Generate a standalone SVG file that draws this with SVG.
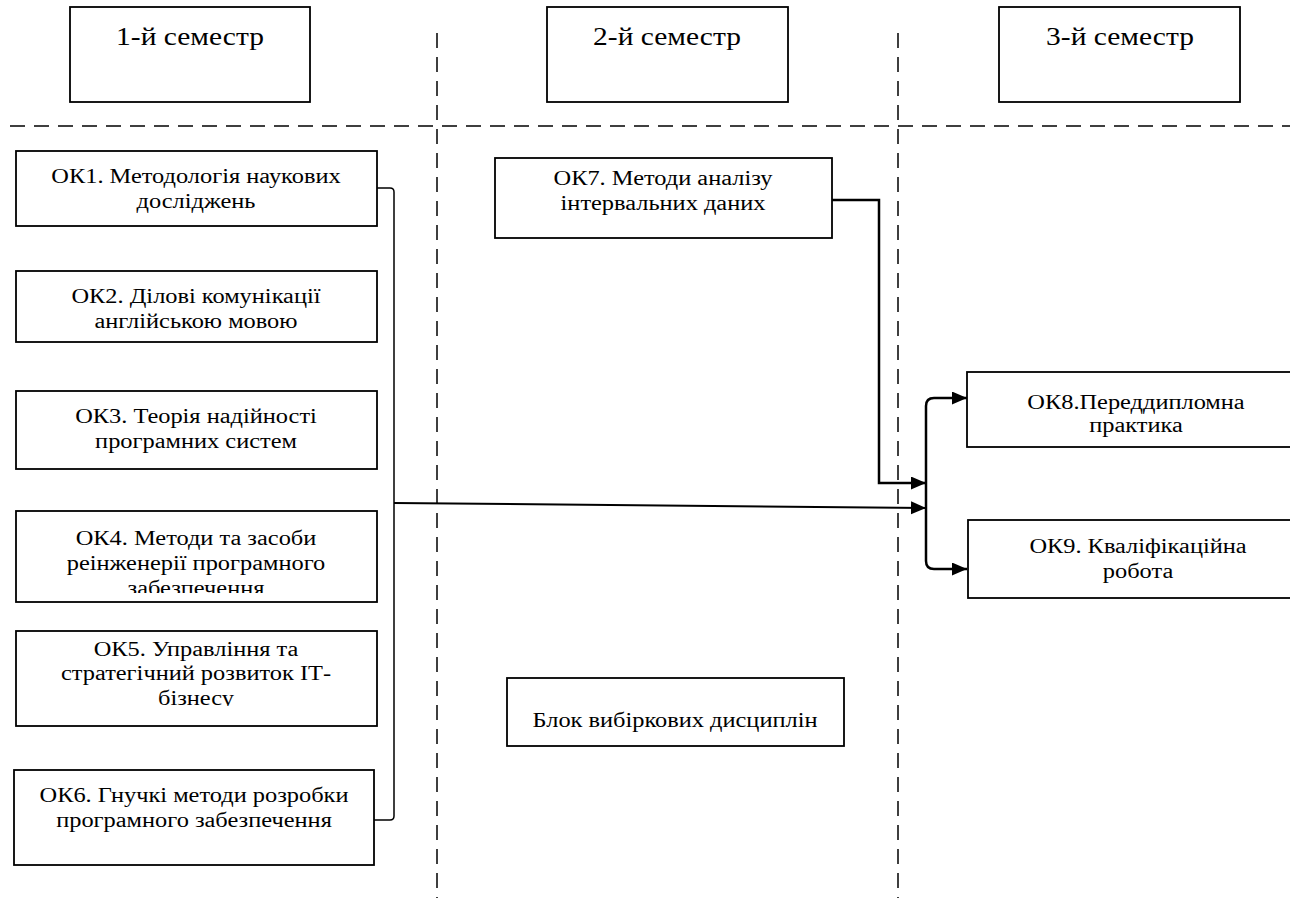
<svg xmlns="http://www.w3.org/2000/svg" width="1290" height="898" viewBox="0 0 1290 898">
<style>
.box{fill:#fff;stroke:#000;stroke-width:1.8}
.dash{fill:none;stroke:#000;stroke-width:1.5;stroke-dasharray:15 9}
.t{font-family:'Liberation Serif','DejaVu Serif',serif;font-size:20.5px;fill:#000;text-anchor:middle}
.h{font-family:'Liberation Serif','DejaVu Serif',serif;font-size:25px;fill:#000;text-anchor:middle}
.thin{fill:none;stroke:#000;stroke-width:1.5}
.thick{fill:none;stroke:#000;stroke-width:2.5}
</style>
<defs>
<marker id="arr" markerUnits="userSpaceOnUse" markerWidth="16" markerHeight="14" refX="15" refY="6.5" orient="auto">
<path d="M0,0 L15,6.5 L0,13 z" fill="#000"/>
</marker>
<clipPath id="c4"><rect x="16" y="511" width="361" height="82"/></clipPath>
<clipPath id="c5"><rect x="16" y="631" width="361" height="75"/></clipPath>
</defs>
<rect width="1290" height="898" fill="#fff"/>
<g id="grid">
<line class="dash" x1="10" y1="126" x2="1290" y2="126"/>
<line class="dash" x1="437" y1="33" x2="437" y2="898"/>
<line class="dash" x1="898" y1="33" x2="898" y2="898"/>
</g>
<g id="sem1"><rect class="box" x="70" y="7" width="240" height="95"/>
<text class="h" transform="translate(190,45) scale(1.18,1)">1-й семестр</text></g>
<g id="sem2"><rect class="box" x="547" y="7" width="241" height="95"/>
<text class="h" transform="translate(667,45) scale(1.18,1)">2-й семестр</text></g>
<g id="sem3"><rect class="box" x="999" y="7" width="241" height="95"/>
<text class="h" transform="translate(1120,45) scale(1.18,1)">3-й семестр</text></g>
<g id="ok1"><rect class="box" x="16" y="151" width="361" height="75"/>
<text class="t" transform="translate(196,183) scale(1.19,1)">ОК1. Методологія наукових</text>
<text class="t" transform="translate(196,208) scale(1.19,1)">досліджень</text></g>
<g id="ok2"><rect class="box" x="16" y="271" width="361" height="71"/>
<text class="t" transform="translate(196,303) scale(1.19,1)">ОК2. Ділові комунікації</text>
<text class="t" transform="translate(196,328) scale(1.19,1)">англійською мовою</text></g>
<g id="ok3"><rect class="box" x="16" y="391" width="361" height="78"/>
<text class="t" transform="translate(196,423) scale(1.19,1)">ОК3. Теорія надійності</text>
<text class="t" transform="translate(196,448) scale(1.19,1)">програмних систем</text></g>
<g id="ok4"><rect class="box" x="16" y="511" width="361" height="91"/>
<g clip-path="url(#c4)">
<text class="t" transform="translate(196,545) scale(1.19,1)">ОК4. Методи та засоби</text>
<text class="t" transform="translate(196,570) scale(1.19,1)">реінженерії програмного</text>
<text class="t" transform="translate(196,595) scale(1.19,1)">забезпечення</text></g></g>
<g id="ok5"><rect class="box" x="16" y="631" width="361" height="95"/>
<g clip-path="url(#c5)">
<text class="t" transform="translate(196,656) scale(1.19,1)">ОК5. Управління та</text>
<text class="t" transform="translate(196,680) scale(1.19,1)">стратегічний розвиток ІТ-</text>
<text class="t" transform="translate(196,705) scale(1.19,1)">бізнесу</text></g></g>
<g id="ok6"><rect class="box" x="14" y="770" width="360" height="95"/>
<text class="t" transform="translate(194,802) scale(1.19,1)">ОК6. Гнучкі методи розробки</text>
<text class="t" transform="translate(194,827) scale(1.19,1)">програмного забезпечення</text></g>
<g id="ok7"><rect class="box" x="495" y="158" width="337" height="80"/>
<text class="t" transform="translate(663,185) scale(1.19,1)">ОК7. Методи аналізу</text>
<text class="t" transform="translate(663,210) scale(1.19,1)">інтервальних даних</text></g>
<g id="vib"><rect class="box" x="507" y="678" width="337" height="68"/>
<text class="t" transform="translate(675,727) scale(1.19,1)">Блок вибіркових дисциплін</text></g>
<g id="ok8"><rect class="box" x="967" y="372" width="340" height="75"/>
<text class="t" transform="translate(1136,409) scale(1.19,1)">ОК8.Переддипломна</text>
<text class="t" transform="translate(1136,432) scale(1.19,1)">практика</text></g>
<g id="ok9"><rect class="box" x="968" y="520" width="340" height="78"/>
<text class="t" transform="translate(1138,553) scale(1.19,1)">ОК9. Кваліфікаційна</text>
<text class="t" transform="translate(1138,578) scale(1.19,1)">робота</text></g>
<g id="connectors">
<path class="thin" d="M377,188 H390 Q394,188 394,192 V816 Q394,820 390,820 H374"/>
<path class="thin" style="stroke-width:2" d="M394,503 L926,508" marker-end="url(#arr)"/>
<path class="thick" d="M832,200 H879 V483 H926" marker-end="url(#arr)"/>
<path class="thick" d="M926,483 V406 Q926,398 934,398 H967" marker-end="url(#arr)"/>
<path class="thick" d="M926,483 V561 Q926,569 934,569 H967" marker-end="url(#arr)"/>
</g>
</svg>
